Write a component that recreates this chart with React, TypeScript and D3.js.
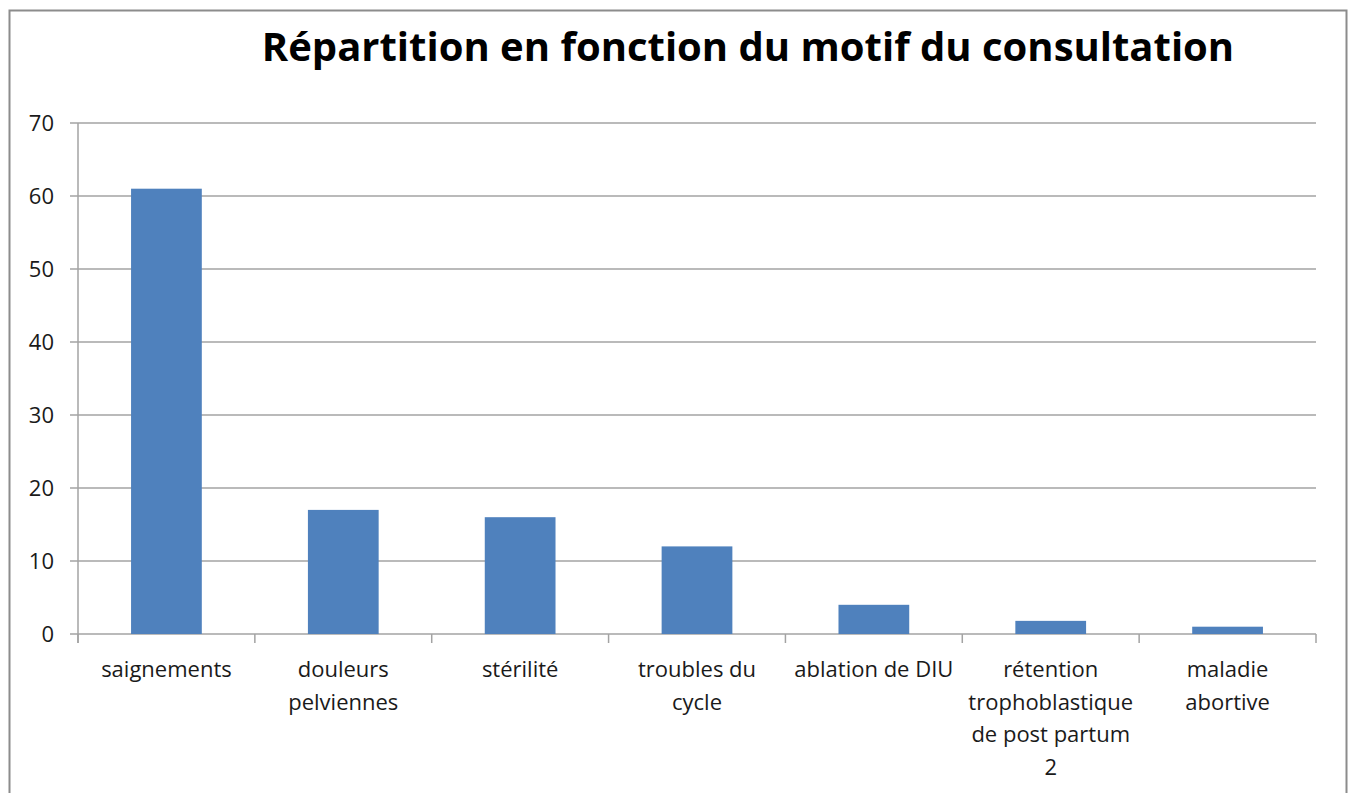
import React from "react";
import * as d3 from "d3";

const title = "Répartition en fonction du motif du consultation";
const categories = [
  "saignements",
  "douleurs\npelviennes",
  "stérilité",
  "troubles du\ncycle",
  "ablation de DIU",
  "rétention\ntrophoblastique\nde post partum\n2",
  "maladie\nabortive",
];
const values = [61, 17, 16, 12, 4, 1.8, 1];
const yTicks = [0, 10, 20, 30, 40, 50, 60, 70];

const W = 1352;
const H = 793;
const plot = { left: 78, right: 1316, top: 123, bottom: 634 };
const FONT = "'Open Sans', Lato, sans-serif";

export default function App() {
  const x = d3
    .scaleBand<number>()
    .domain(d3.range(categories.length))
    .range([plot.left, plot.right])
    .paddingInner(0)
    .paddingOuter(0);
  const y = d3.scaleLinear().domain([0, 70]).range([plot.bottom, plot.top]);
  const barW = x.bandwidth() * 0.4;
  const boundaries = d3.range(categories.length + 1).map((i) =>
    i < categories.length ? (x(i) as number) : plot.right
  );

  return (
    <div style={{ position: "absolute", left: 0, top: 0, width: W, height: H, overflow: "hidden" }}>
      <svg width={W} height={H} style={{ display: "block", background: "#fff" }}>
        <rect x={0} y={0} width={W} height={H} fill="#fff" />
        {/* outer frame */}
        <path d={`M9.5,${H + 2} V10.5 H1346.5 V${H + 2}`} fill="none" stroke="#8c8c8c" strokeWidth={2} />
        {/* title */}
        <text x={748} y={61} textAnchor="middle" fontFamily={FONT} fontWeight={700} fontSize={40} fill="#000">
          {title}
        </text>
        {/* gridlines and y ticks */}
        {yTicks.map((t) => (
          <g key={t}>
            <line x1={70} x2={plot.right} y1={y(t)} y2={y(t)} stroke="#a3a3a3" strokeWidth={1.5} />
            <text x={54} y={y(t) + 8} textAnchor="end" fontFamily={FONT} fontSize={22} fill="#1a1a1a">
              {t}
            </text>
          </g>
        ))}
        {/* y axis */}
        <line x1={plot.left} x2={plot.left} y1={plot.top} y2={plot.bottom + 9} stroke="#a3a3a3" strokeWidth={1.5} />
        {/* x ticks */}
        {boundaries.map((bx, i) => (
          <line key={i} x1={bx} x2={bx} y1={plot.bottom} y2={plot.bottom + 9} stroke="#a3a3a3" strokeWidth={1.5} />
        ))}
        {/* bars */}
        {values.map((v, i) => (
          <rect
            key={i}
            x={(x(i) as number) + x.bandwidth() / 2 - barW / 2}
            y={y(v)}
            width={barW}
            height={y(0) - y(v)}
            fill="#4f81bd"
          />
        ))}
        {/* category labels */}
        {categories.map((c, i) => (
          <text
            key={i}
            x={(x(i) as number) + x.bandwidth() / 2}
            y={677}
            textAnchor="middle"
            fontFamily={FONT}
            fontSize={22}
            fill="#1a1a1a"
          >
            {c.split("\n").map((line, j) => (
              <tspan key={j} x={(x(i) as number) + x.bandwidth() / 2} dy={j === 0 ? 0 : 32.5}>
                {line}
              </tspan>
            ))}
          </text>
        ))}
      </svg>
    </div>
  );
}
